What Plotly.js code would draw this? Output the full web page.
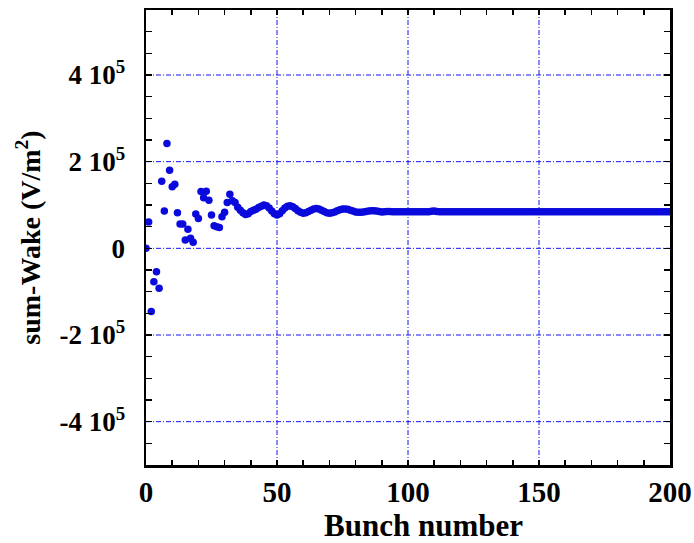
<!DOCTYPE html>
<html>
<head>
<meta charset="utf-8">
<script src="https://cdn.plot.ly/plotly-3.0.1.min.js"></script>
<style>html,body{margin:0;padding:0;background:#fff;}#chart{width:694px;height:543px;}</style>
</head>
<body>
<div id="chart"></div>
<script>
// sum-Wake values (V/m^2) for bunch 0,1,2,...
const wakeEarly = [
  0, 61000, -146000, -77000, -54000, -92000, 155000, 86000, 242000, 180000,
  142000, 148000, 82000, 56000, 56000, 19000, 44000, 23000, 14000, 79000,
  69000, 131000, 117000, 132000, 111000, 77000, 52000, 50000, 48000, 73000,
  83000, 106000, 125000, 110000, 106000, 95000, 88000, 82000, 78000, 80000
];
const wakeMiddle = [
  85000, 88000, 90000, 94000, 97000, 100000, 98000, 93000, 86000, 80000,
  77000, 80000, 87000, 93000, 97000, 98000, 96000, 92000, 87000, 83000,
  81000, 82000, 85000, 88000, 91000, 92000, 91000, 88000, 85000, 82000,
  81000, 82000, 84000, 87000, 89000, 91000, 91000, 90000, 88000, 86000,
  84000, 83000, 83000, 84000, 85000, 86000, 87000, 87000, 86000, 85000
];
const wakeTail = [
  84000, 84500, 85000, 85000, 84500, 84500, 84500, 84500, 84500, 84500,
  84500, 84500, 84500, 84500, 84500, 84500, 84500, 84500, 84500, 85500,
  86000, 85000, 84500, 84500, 84500, 84500, 84500, 84500, 84500, 84500,
  84500, 84500, 84500, 84500, 84500, 84500, 84500, 84500, 84500, 84500,
  84500, 84500, 84500, 84500, 84500, 84500, 84500, 84500, 84500, 84500,
  84500, 84500, 84500, 84500, 84500, 84500, 84500, 84500, 84500, 84500,
  84500, 84500, 84500, 84500, 84500, 84500, 84500, 84500, 84500, 84500,
  84500, 84500, 84500, 84500, 84500, 84500, 84500, 84500, 84500, 84500,
  84500, 84500, 84500, 84500, 84500, 84500, 84500, 84500, 84500, 84500,
  84500, 84500, 84500, 84500, 84500, 84500, 84500, 84500, 84500, 84500,
  84500, 84500, 84500, 84500, 84500, 84500, 84500, 84500, 84500, 84500,
  84500
];
const xTickVals = [0, 50, 100, 150, 200];
const xTickText = ['0', '50', '100', '150', '200'];
const yTickVals = [-400000, -200000, 0, 200000, 400000];
const yTickText = ['-4 10<sup>5</sup>', '-2 10<sup>5</sup>', '0', '2 10<sup>5</sup>', '4 10<sup>5</sup>'];

const sumWake = wakeEarly.concat(wakeMiddle, wakeTail);
const bunch = sumWake.map((_, i) => i);

const fontFam = '"Liberation Serif", "Times New Roman", serif';
const gridLine = {color: 'rgb(20,20,240)', width: 1, dash: '5px,2px,1px,2px'};
const xRange = [0, 200];
const yRange = [-500000, 550000];

const shapes = [];
xTickVals.filter(v => v > xRange[0] && v < xRange[1]).forEach(v => shapes.push(
  {type: 'line', xref: 'x', yref: 'paper', x0: v, x1: v, y0: 0, y1: 1, line: gridLine, layer: 'below'}));
yTickVals.forEach(v => shapes.push(
  {type: 'line', xref: 'paper', yref: 'y', x0: 0, x1: 1, y0: v, y1: v, line: gridLine, layer: 'below'}));

Plotly.newPlot('chart', [{
  x: bunch, y: sumWake, type: 'scatter', mode: 'markers',
  marker: {color: '#0a0adc', size: 7.5, line: {width: 0}},
  hoverinfo: 'skip'
}], {
  width: 694, height: 543,
  margin: {l: 146, r: 24, t: 9.5, b: 77.5},
  paper_bgcolor: '#fff', plot_bgcolor: '#fff',
  showlegend: false,
  font: {family: fontFam, color: '#000'},
  shapes: shapes,
  annotations: [{
    text: '<b>Bunch number</b>', xref: 'paper', yref: 'paper', x: 0.53, y: -0.132,
    xanchor: 'center', yanchor: 'middle', showarrow: false, font: {size: 31, family: fontFam}
  }],
  xaxis: {
    range: xRange, tickmode: 'array', tickvals: xTickVals,
    ticktext: xTickText.map(t => '<b>' + t + '</b>'),
    tickfont: {size: 29, family: fontFam}, ticks: 'inside', ticklen: 5, tickwidth: 1.5, tickcolor: '#000',
    minor: {dtick: 10, tick0: 0, ticks: 'inside', ticklen: 5, tickwidth: 1.5, tickcolor: '#000', showgrid: false},
    showgrid: false, showline: true, linecolor: '#000', linewidth: 2.5, mirror: 'ticks', zeroline: false,
    ticklabelstandoff: 0
  },
  yaxis: {
    range: yRange, tickmode: 'array', tickvals: yTickVals,
    ticktext: yTickText.map(t => '<b>' + t + '</b>'),
    tickfont: {size: 27, family: fontFam}, ticks: 'inside', ticklen: 6, tickwidth: 1.5, tickcolor: '#000',
    minor: {dtick: 50000, tick0: 0, ticks: 'inside', ticklen: 6, tickwidth: 1.5, tickcolor: '#000', showgrid: false},
    showgrid: false, showline: true, linecolor: '#000', linewidth: 2.5, mirror: 'ticks', zeroline: false,
    ticklabelstandoff: 13,
    title: {text: '<b>sum-Wake (V/m<sup>2</sup>)</b>', font: {size: 28, family: fontFam}, standoff: 11}
  }
}, {displayModeBar: false, staticPlot: true});
</script>
</body>
</html>
